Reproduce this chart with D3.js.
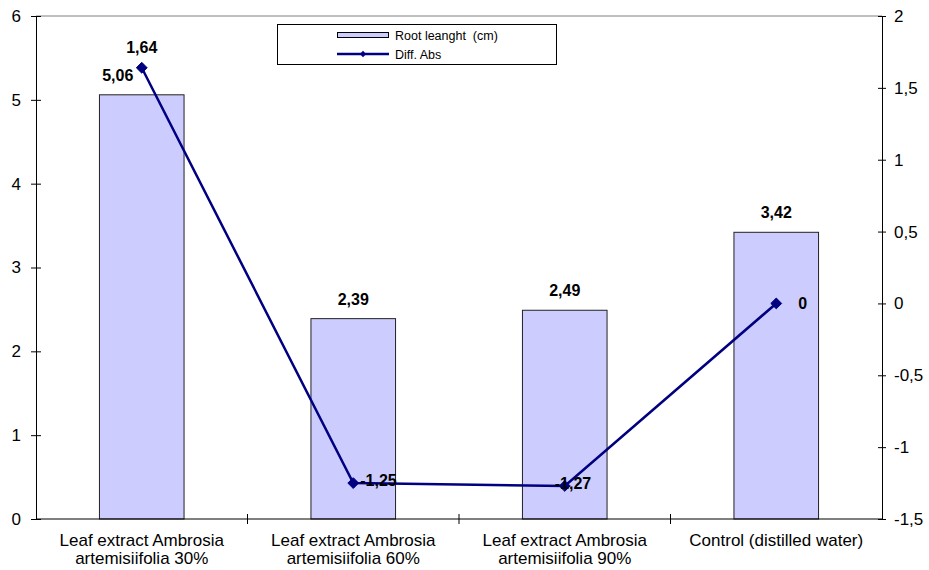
<!DOCTYPE html>
<html><head><meta charset="utf-8">
<script src="https://cdn.jsdelivr.net/npm/d3@7"></script>
<style>
body{margin:0;background:#fff;}
text{font-family:Arial,"Liberation Sans",sans-serif;fill:#000;}
</style></head>
<body><svg id="c" width="929" height="570"></svg>
<script>
const categories = [
  ["Leaf extract Ambrosia","artemisiifolia 30%"],
  ["Leaf extract Ambrosia","artemisiifolia 60%"],
  ["Leaf extract Ambrosia","artemisiifolia 90%"],
  ["Control (distilled water)"]
];
const rootLength = [5.06, 2.39, 2.49, 3.42];
const diffAbs = [1.64, -1.25, -1.27, 0];
const leftTicks = [0,1,2,3,4,5,6];
const rightTicks = [-1.5,-1,-0.5,0,0.5,1,1.5,2];
const seriesNames = ["Root leanght  (cm)", "Diff. Abs"];

const svg = d3.select("#c");
const L = 36, R = 882, T = 16, B = 519;
const fmt = d => String(d).replace(".", ",");
const idx = d3.range(categories.length);

const x = d3.scaleBand().domain(idx).range([L, R]).padding(0);
const yL = d3.scaleLinear().domain([0, 6]).range([B, T]);
const yR = d3.scaleLinear().domain([-1.5, 2]).range([B, T]);

// top border
svg.append("line").attr("x1", L).attr("x2", R).attr("y1", T).attr("y2", T)
  .attr("stroke", "#808080").attr("stroke-width", 1);

// bars
const bw = x.bandwidth() * 0.4;
svg.selectAll("rect.bar").data(rootLength).join("rect")
  .attr("class", "bar")
  .attr("x", (d, i) => x(i) + x.bandwidth() / 2 - bw / 2)
  .attr("y", d => yL(d))
  .attr("width", bw)
  .attr("height", d => B - yL(d))
  .attr("fill", "#CCCCFF").attr("stroke", "#222").attr("stroke-width", 1);

// axes
const gl = svg.append("g").attr("transform", `translate(${L},0)`)
  .call(d3.axisLeft(yL).tickValues(leftTicks).tickFormat(fmt).tickSizeInner(5).tickSizeOuter(0).tickPadding(10));
gl.selectAll(".tick line").attr("x1", -5).attr("x2", 5);
const gr = svg.append("g").attr("transform", `translate(${R},0)`)
  .call(d3.axisRight(yR).tickValues(rightTicks).tickFormat(fmt).tickSizeInner(5).tickSizeOuter(0).tickPadding(7));
gr.selectAll(".tick line").attr("x1", -4).attr("x2", 4);
[gl, gr].forEach(g => {
  g.select(".domain").attr("stroke", "#000");
  g.selectAll(".tick line").attr("stroke", "#000");
  g.selectAll(".tick text").style("font-size", "17px").attr("font-family", null);
});

// bottom axis
svg.append("line").attr("x1", L).attr("x2", R).attr("y1", B).attr("y2", B).attr("stroke", "#000");
svg.selectAll("line.ctick").data(idx.slice(1)).join("line").attr("class", "ctick")
  .attr("x1", i => x(i)).attr("x2", i => x(i)).attr("y1", B - 5).attr("y2", B + 5).attr("stroke", "#000");
const cl = svg.selectAll("text.cat").data(categories).join("text").attr("class", "cat")
  .attr("text-anchor", "middle").style("font-size", "17px")
  .attr("x", (d, i) => x(i) + x.bandwidth() / 2).attr("y", 546);
cl.selectAll("tspan").data(d => d).join("tspan")
  .attr("x", function () { return this.parentNode.getAttribute("x"); })
  .attr("dy", (d, j) => j === 0 ? 0 : 18).text(d => d);

// bar labels
const barDx = [-24, 0, 0, 0];
svg.selectAll("text.bl").data(rootLength).join("text").attr("class", "bl")
  .attr("text-anchor", "middle").style("font-size", "16px").style("font-weight", "bold")
  .attr("x", (d, i) => x(i) + x.bandwidth() / 2 + barDx[i])
  .attr("y", d => yL(d) - 14).text(fmt);

// line
const cx = i => x(i) + x.bandwidth() / 2;
svg.append("path").datum(diffAbs)
  .attr("d", d3.line().x((d, i) => cx(i)).y(d => yR(d)))
  .attr("fill", "none").attr("stroke", "#000080").attr("stroke-width", 2.5);
const diamond = d3.symbol().type(d3.symbolDiamond2).size(75);
svg.selectAll("path.mk").data(diffAbs).join("path").attr("class", "mk")
  .attr("d", diamond)
  .attr("transform", (d, i) => `translate(${cx(i)},${yR(d)})`)
  .attr("fill", "#000080").attr("stroke", "#000080");

// line labels
const lOff = [[0, -15, "middle"], [7, 3, "start"], [-10, 3, "start"], [22, 6, "start"]];
svg.selectAll("text.ll").data(diffAbs).join("text").attr("class", "ll")
  .style("font-size", "16px").style("font-weight", "bold")
  .attr("text-anchor", (d, i) => lOff[i][2])
  .attr("x", (d, i) => cx(i) + lOff[i][0])
  .attr("y", d => yR(d)).attr("dy", (d, i) => lOff[i][1]).text(fmt);

// legend
const lg = svg.append("g");
lg.append("rect").attr("x", 277.5).attr("y", 24.5).attr("width", 279).attr("height", 40)
  .attr("fill", "#fff").attr("stroke", "#000");
lg.append("rect").attr("x", 337.5).attr("y", 32.5).attr("width", 51).attr("height", 5)
  .attr("fill", "#CCCCFF").attr("stroke", "#000");
lg.append("line").attr("x1", 337).attr("x2", 389).attr("y1", 54).attr("y2", 54)
  .attr("stroke", "#000080").attr("stroke-width", 2.5);
lg.append("path").attr("d", d3.symbol().type(d3.symbolDiamond2).size(25)())
  .attr("transform", "translate(363,54)").attr("fill", "#000080");
lg.selectAll("text").data(seriesNames).join("text")
  .attr("x", 395).attr("y", (d, i) => 40 + i * 19)
  .style("font-size", "12.5px").style("white-space", "pre").text(d => d);
</script></body></html>
